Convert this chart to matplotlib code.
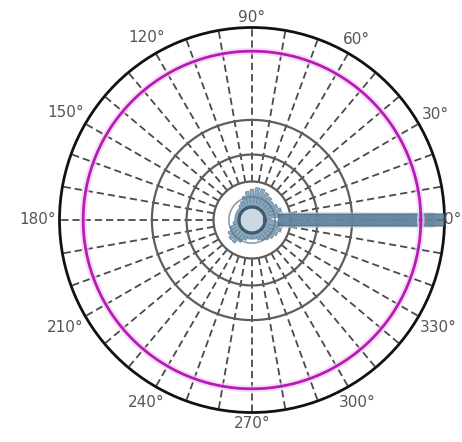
import numpy as np
import matplotlib
matplotlib.use("Agg")
import matplotlib.pyplot as plt

# ---- data -------------------------------------------------------------
# angular label positions (deg) and their texts
label_angles = [0, 30, 60, 90, 120, 150, 180, 210, 240, 270, 300, 330]
label_texts = ["0°", "30°", "60°", "90°", "120°", "150°", "180°",
               "210°", "240°", "270°", "300°", "330°"]

# radial grid circles (normalised radius, 1 = rim)
grid_circles = [0.20, 0.34, 0.52]
reference_ring = 0.877          # magenta reference level
radial_spokes = np.arange(0, 360, 10)

# main beam (deg -> normalised gain)
beam_deg = [-12, -8.7, -5.8, -4.3, -2.9, -2.2, -1.8, 0,
            1.8, 2.2, 2.9, 4.3, 5.8, 8.7, 12]
beam_r = [0.14, 0.20, 0.30, 0.40, 0.60, 0.80, 1.00, 1.00,
          1.00, 0.80, 0.60, 0.40, 0.30, 0.20, 0.14]

# lighter band around the beam
halo_deg = [-16, -11, -7.5, -5.6, -3.8, -2.8, -2.4, 0,
            2.4, 2.8, 3.8, 5.6, 7.5, 11, 16]
halo_r = [0.15, 0.21, 0.31, 0.41, 0.60, 0.80, 0.95, 0.96,
          0.95, 0.80, 0.60, 0.41, 0.31, 0.21, 0.15]

# side-lobe peaks every 10 deg from 10 to 350
lobe_deg = list(range(10, 360, 10))
lobe_r = [0.16, 0.16, 0.15, 0.14, 0.15, 0.16, 0.17, 0.17, 0.16, 0.15,
          0.13, 0.11, 0.10, 0.09, 0.09, 0.09, 0.09, 0.09, 0.10, 0.12,
          0.14, 0.15, 0.15, 0.13, 0.11, 0.10, 0.10, 0.10, 0.11, 0.12,
          0.13, 0.14, 0.15, 0.16, 0.16]
lobe_valley = 0.085

level_labels = ["0", "-10", "-20", "-30"]
level_r = [0.175, 0.25, 0.33, 0.41]

# ---- figure -----------------------------------------------------------
W, H = 462, 442
fig = plt.figure(figsize=(W / 100, H / 100), dpi=100)
cx, cy, R = 252, 220, 192.5
ax = fig.add_axes([(cx - R) / W, (H - cy - R) / H, 2 * R / W, 2 * R / H],
                  projection="polar")
ax.set_ylim(0, 1)
ax.grid(False)
ax.set_xticks([])
ax.set_yticks([])
ax.spines["polar"].set_color("#111111")
ax.spines["polar"].set_linewidth(2.0)
ax.set_facecolor("white")

th = np.linspace(0, 2 * np.pi, 721)

# dashed spokes
for a in radial_spokes:
    t = np.deg2rad(a)
    ax.plot([t, t], [grid_circles[0], 1.0], color="#4a4a4a", lw=1.3,
            dashes=(4, 2.2), zorder=2)

# solid grid circles
for rc in grid_circles:
    ax.plot(th, np.full_like(th, rc), color="#5e5e5e", lw=1.6, zorder=2)

# side lobes: blocky petals with valleys between them
sl_t, sl_r = [], []
for a, r in zip(lobe_deg, lobe_r):
    sl_t += [a - 5, a - 3.5, a + 3.5]
    sl_r += [lobe_valley, r, r]
sl_t = np.deg2rad(np.array(sl_t))
ax.fill(sl_t, np.array(sl_r), color="#7192ab", alpha=0.8,
        edgecolor="#5b7d97", lw=0.6, zorder=4)

# beam halo and main beam
ax.fill(np.deg2rad(halo_deg), halo_r, color="#b3c7d6", alpha=0.75, lw=0, zorder=4)
ax.fill(np.deg2rad(beam_deg), beam_r, color="#5a7c96", alpha=0.85,
        edgecolor="#46667f", lw=0.8, zorder=5)

# magenta reference level with soft halo, drawn over the pattern
ax.plot(th, np.full_like(th, reference_ring), color="#f5d0f5", lw=5,
        alpha=0.7, zorder=6)
ax.plot(th, np.full_like(th, reference_ring), color="#b41cb4", lw=2.0, zorder=6)

# central rings of the pattern
ax.fill(th, np.full_like(th, 0.06), color="#c9d8e3", lw=0, zorder=6)
ax.plot(th, np.full_like(th, 0.068), color="#3f5c72", lw=2.4, zorder=6)
ax.plot(th, np.full_like(th, 0.12), color="#58778f", lw=1.2, alpha=0.7, zorder=6)

# level annotations along the 0 deg axis
for txt, r in zip(level_labels, level_r):
    ax.text(0.0, r, txt, color="#7d93a6", fontsize=5, ha="center",
            va="center", zorder=7)

# angle labels around the rim
fig_ax = fig.add_axes([0, 0, 1, 1], facecolor="none")
fig_ax.set_xlim(0, W)
fig_ax.set_ylim(H, 0)
fig_ax.axis("off")
tw, thh, gap = 36, 13, 4
for a, txt in zip(label_angles, label_texts):
    t = np.deg2rad(a)
    w = tw * len(txt) / 4
    ext = abs(np.cos(t)) * w / 2 + abs(np.sin(t)) * thh / 2
    rr = R + gap + ext
    x, y = cx + rr * np.cos(t), cy - rr * np.sin(t)
    ha = "center"
    if x + w / 2 > W - 1:
        x, ha = W - 1, "right"
    fig_ax.text(x, y, txt, color="#555555", fontsize=11, ha=ha,
                va="center", clip_on=False)

fig.savefig("out.png", dpi=100, facecolor="white")
